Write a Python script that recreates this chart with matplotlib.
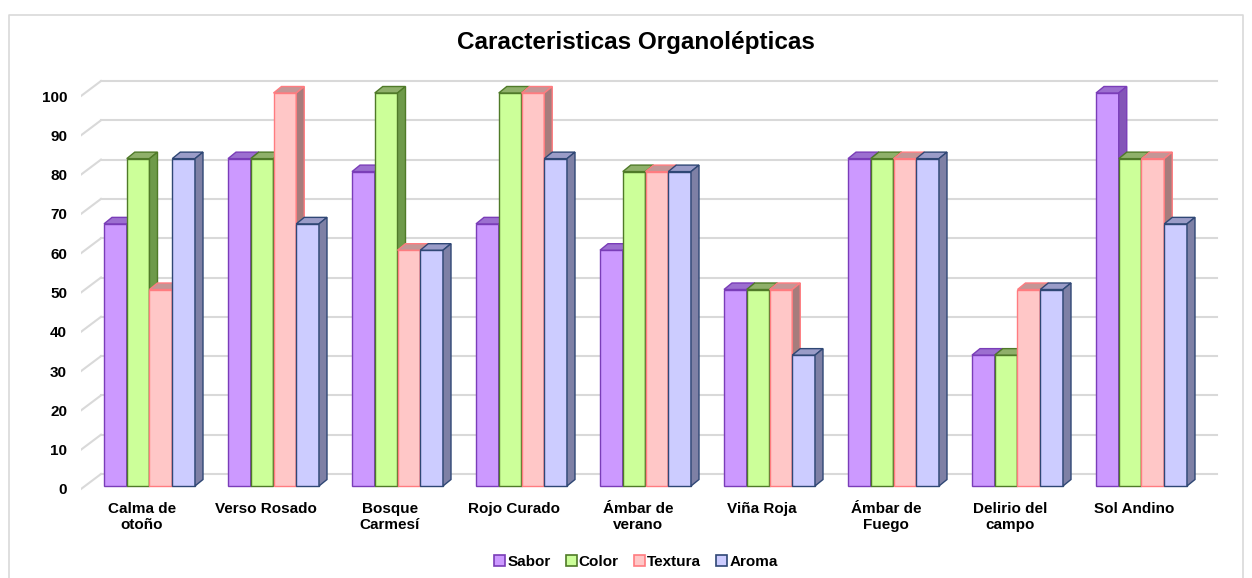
import matplotlib.pyplot as plt
import numpy as np
from matplotlib.patches import Polygon, Patch

plt.rcParams['font.family'] = ['Liberation Sans', 'DejaVu Sans']

categorias = ["Calma de\notoño", "Verso Rosado", "Bosque\nCarmesí", "Rojo Curado",
              "Ámbar de\nverano", "Viña Roja", "Ámbar de\nFuego", "Delirio del\ncampo",
              "Sol Andino"]
sabor = [66.7, 83.3, 80, 66.7, 60, 50, 83.3, 33.3, 100]
color = [83.3, 83.3, 100, 100, 80, 50, 83.3, 33.3, 83.3]
textura = [50, 100, 60, 100, 80, 50, 83.3, 50, 83.3]
aroma = [83.3, 66.7, 60, 83.3, 80, 33.3, 83.3, 50, 66.7]

series = ["Sabor", "Color", "Textura", "Aroma"]
valores = [sabor, color, textura, aroma]
# front, edge, top, side
estilos = [("#CC99FF", "#7A3DB8", "#9C6FD0", "#8455B8"),
           ("#CCFF99", "#4F7A28", "#8FB06A", "#6E9A4A"),
           ("#FFC7C7", "#FF7C80", "#C49696", "#A67C7C"),
           ("#CCCCFF", "#2F4775", "#9A9CC8", "#7E80A5")]

W, H = 1252, 578
fig = plt.figure(figsize=(W / 100, H / 100), dpi=100)

# pixel geometry
px_cat = 124.0       # pixels per category
px_val = 3.93        # pixels per unit of value
x0_px, x1_px = 81, 1225
y_bot_px, y_top_px = 495, 75
y_zero_px = 489

ax = fig.add_axes([x0_px / W, (H - y_bot_px) / H, (x1_px - x0_px) / W, (y_bot_px - y_top_px) / H])
ax.set_xlim(-0.5, -0.5 + (x1_px - x0_px) / px_cat)
ax.set_ylim(-(y_bot_px - y_zero_px) / px_val, (y_zero_px - y_top_px) / px_val)
for s in ax.spines.values():
    s.set_visible(False)

# walls
dxw, dyw = 20 / px_cat, 15 / px_val
n = len(categorias)
for v in range(0, 101, 10):
    ax.plot([-0.5 + dxw, n - 0.5 + dxw], [v + dyw, v + dyw], color="#d9d9d9", lw=1.5, zorder=0)
    ax.plot([-0.5, -0.5 + dxw], [v, v + dyw], color="#d9d9d9", lw=1.5, zorder=0)

# bars
bw = 22.75 / px_cat
gx = -0.5 + 23 / px_cat     # group start offset within category
by = 3 / px_val
dxb, dyb = 8 / px_cat, 6.5 / px_val
xs = np.arange(n)
for j, (vals, (fc, ec, tc, sc)) in enumerate(zip(valores, estilos)):
    left = xs + gx + j * bw
    ax.bar(left, vals, width=bw, bottom=by, align="edge", color=fc, edgecolor=ec,
           linewidth=1.0, zorder=2 + 3 * j)
    for l, v in zip(left, vals):
        top = v + by
        ax.add_patch(Polygon([(l, top), (l + bw, top), (l + bw + dxb, top + dyb), (l + dxb, top + dyb)],
                             closed=True, facecolor=tc, edgecolor=ec, lw=1.0, zorder=3 + 3 * j))
        ax.add_patch(Polygon([(l + bw, by), (l + bw + dxb, by + dyb), (l + bw + dxb, top + dyb), (l + bw, top)],
                             closed=True, facecolor=sc, edgecolor=ec, lw=1.0, zorder=4 + 3 * j))

ax.set_yticks(range(0, 101, 10))
ax.set_yticklabels([str(v) for v in range(0, 101, 10)], fontsize=11, fontweight="bold")
ax.set_xticks(xs - 0.01)
ax.set_xticklabels(categorias, fontsize=11, fontweight="bold", linespacing=1.2)
ax.tick_params(axis="y", length=0, pad=10)
ax.tick_params(axis="x", length=0, pad=5)

fig.text(636 / W, 1 - 42 / H, "Caracteristicas Organolépticas", ha="center", va="center",
         fontsize=17.5, fontweight="bold")

handles = [Patch(facecolor=e[0], edgecolor=e[1], lw=1.2) for e in estilos]
fig.legend(handles, series, loc="center", bbox_to_anchor=(636 / W, 1 - 562 / H), ncol=4,
           frameon=False, prop={"weight": "bold", "size": 11}, handlelength=0.7, handleheight=0.7,
           handletextpad=0.15, columnspacing=1.0)

# outer border
fig.add_artist(plt.Line2D([9 / W, 9 / W, 1243 / W, 1243 / W], [0, 1 - 15 / H, 1 - 15 / H, 0],
                          color="#d9d9d9", lw=1.2))

fig.savefig("out.png", dpi=100)
